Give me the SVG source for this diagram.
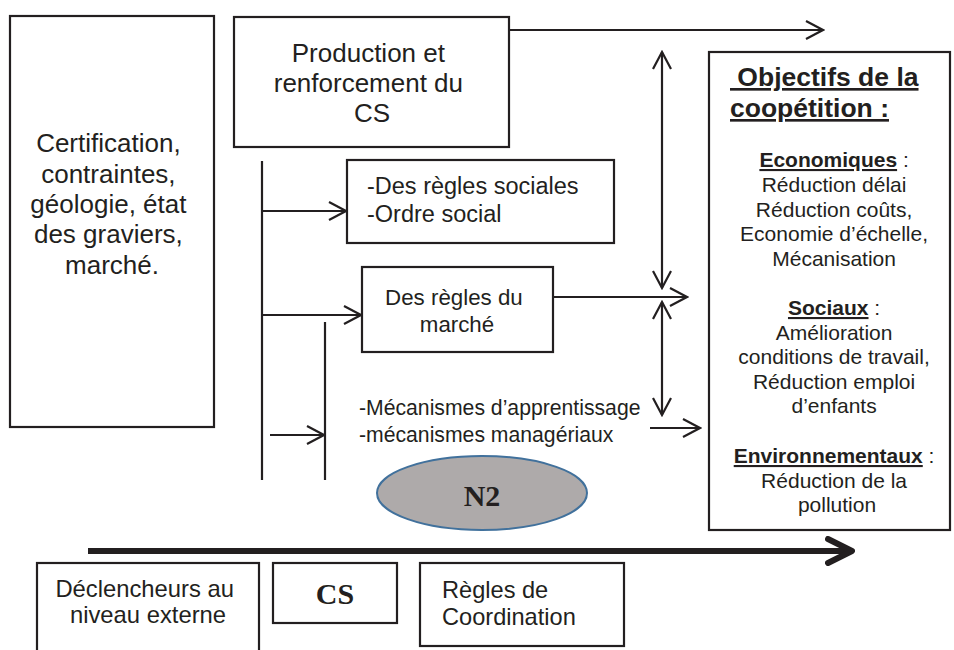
<svg xmlns="http://www.w3.org/2000/svg" width="954" height="650" viewBox="0 0 954 650">
<style>
.box{fill:#fff;stroke:#231f20;stroke-width:2.2}
.ln{fill:none;stroke:#231f20;stroke-width:2.2}
.t{font-family:"Liberation Sans",Arial,sans-serif;fill:#231f20}
.tb{font-family:"Liberation Sans",Arial,sans-serif;fill:#231f20;font-weight:bold}
.ts{font-family:"Liberation Serif","Times New Roman",serif;fill:#231f20;font-weight:bold}
</style>
<defs>
<marker id="ah" markerUnits="userSpaceOnUse" viewBox="0 0 20 22" refX="18" refY="10" markerWidth="20" markerHeight="22" orient="auto-start-reverse">
<path d="M1,1 L18,10 L1,19" fill="none" stroke="#231f20" stroke-width="2.2"/>
</marker>
<marker id="big" markerUnits="userSpaceOnUse" viewBox="0 0 30 30" refX="27" refY="15" markerWidth="30" markerHeight="30" orient="auto">
<path d="M3,3 L27,15 L3,27" fill="none" stroke="#231f20" stroke-width="6" stroke-linecap="round" stroke-linejoin="round"/>
</marker>
</defs>

<g id="connectors">
<line class="ln" x1="509" y1="30" x2="823" y2="30" marker-end="url(#ah)"/>
<line class="ln" x1="262" y1="161" x2="262" y2="480"/>
<line class="ln" x1="325" y1="322" x2="325" y2="480"/>
<line class="ln" x1="262" y1="211" x2="346" y2="211" marker-end="url(#ah)"/>
<line class="ln" x1="262" y1="315" x2="361" y2="315" marker-end="url(#ah)"/>
<line class="ln" x1="270" y1="435" x2="324" y2="435" marker-end="url(#ah)"/>
<line class="ln" x1="662" y1="52" x2="662" y2="288" marker-start="url(#ah)" marker-end="url(#ah)"/>
<line class="ln" x1="553" y1="297" x2="687" y2="297" marker-end="url(#ah)"/>
<line class="ln" x1="662" y1="302" x2="662" y2="415" marker-start="url(#ah)" marker-end="url(#ah)"/>
<line class="ln" x1="650" y1="428" x2="700" y2="428" marker-end="url(#ah)"/>
<line x1="88" y1="551" x2="852" y2="551" stroke="#231f20" stroke-width="6" marker-end="url(#big)"/>
</g>

<g id="external">
<rect class="box" x="10" y="16" width="204" height="411"/>
<text class="t" font-size="26" text-anchor="middle">
<tspan x="112" y="152">Certification,</tspan>
<tspan x="112" y="182.5">contraintes,</tspan>
<tspan x="112" y="213">géologie, état</tspan>
<tspan x="112" y="243">des graviers,</tspan>
<tspan x="112" y="273.5">marché.</tspan>
</text>
</g>

<g id="production">
<rect class="box" x="234" y="17" width="275" height="130"/>
<text class="t" font-size="26" text-anchor="middle">
<tspan x="372" y="62">Production et</tspan>
<tspan x="372" y="92">renforcement du</tspan>
<tspan x="372" y="122">CS</tspan>
</text>
</g>

<g id="regles-sociales">
<rect class="box" x="347" y="160" width="267" height="83"/>
<text class="t" font-size="23.5">
<tspan x="367" y="194">-Des règles sociales</tspan>
<tspan x="367" y="222">-Ordre social</tspan>
</text>
</g>

<g id="regles-marche">
<rect class="box" x="362" y="267" width="191" height="85"/>
<text class="t" font-size="22.3" text-anchor="middle">
<tspan x="457" y="305">Des règles du</tspan>
<tspan x="457" y="332">marché</tspan>
</text>
</g>

<g id="mecanismes">
<text class="t" font-size="21.2">
<tspan x="359" y="415">-Mécanismes d’apprentissage</tspan>
<tspan x="359" y="442">-mécanismes managériaux</tspan>
</text>
</g>

<g id="n2">
<ellipse cx="482" cy="493" rx="105" ry="37" fill="#aeaaaa" stroke="#41719c" stroke-width="2"/>
<text class="ts" font-size="30" x="482" y="506" text-anchor="middle">N2</text>
</g>

<g id="objectifs">
<rect class="box" x="709" y="52" width="241" height="478"/>
<text class="tb" font-size="26.5" text-decoration="underline" xml:space="preserve"><tspan x="730" y="86"> Objectifs de la</tspan><tspan x="730" y="117">coopétition :</tspan></text>
<text class="t" font-size="21" text-anchor="middle">
<tspan x="837" y="167"><tspan font-weight="bold" text-decoration="underline">Economiques</tspan> :</tspan>
<tspan x="837" y="192">Réduction délai</tspan>
<tspan x="837" y="216.5">Réduction coûts,</tspan>
<tspan x="837" y="241">Economie d’échelle,</tspan>
<tspan x="837" y="265.5">Mécanisation</tspan>
<tspan x="837" y="315"><tspan font-weight="bold" text-decoration="underline">Sociaux</tspan> :</tspan>
<tspan x="837" y="340">Amélioration</tspan>
<tspan x="837" y="364">conditions de travail,</tspan>
<tspan x="837" y="388.5">Réduction emploi</tspan>
<tspan x="837" y="413">d’enfants</tspan>
<tspan x="837" y="463"><tspan font-weight="bold" text-decoration="underline">Environnementaux</tspan> :</tspan>
<tspan x="837" y="488">Réduction de la</tspan>
<tspan x="837" y="512">pollution</tspan>
</text>
</g>

<g id="declencheurs">
<rect class="box" x="37" y="563" width="222" height="95"/>
<text class="t" font-size="23.8" text-anchor="middle">
<tspan x="148" y="597">Déclencheurs au</tspan>
<tspan x="148" y="623">niveau externe</tspan>
</text>
</g>

<g id="cs">
<rect class="box" x="273" y="563" width="124" height="60"/>
<text class="ts" font-size="30" x="335" y="604" text-anchor="middle">CS</text>
</g>

<g id="regles-coordination">
<rect class="box" x="420" y="563" width="204" height="83"/>
<text class="t" font-size="23.6">
<tspan x="442" y="598">Règles de</tspan>
<tspan x="442" y="625">Coordination</tspan>
</text>
</g>
</svg>
